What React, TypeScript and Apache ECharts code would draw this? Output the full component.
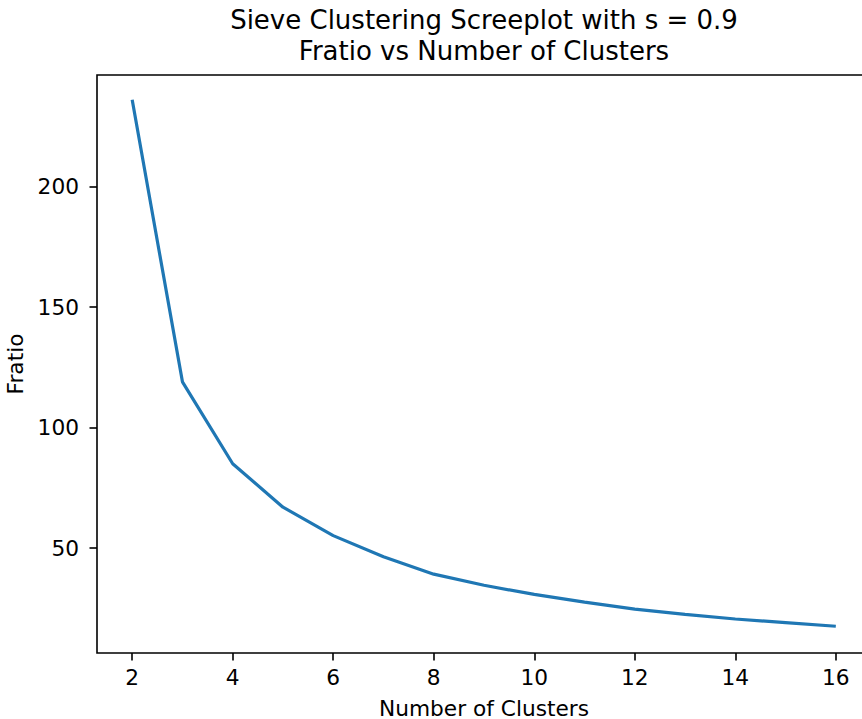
import React, { useEffect, useRef } from "react";
import * as echarts from "echarts";

const clusters = [2, 3, 4, 5, 6, 7, 8, 9, 10, 11, 12, 13, 14, 15, 16];
const fratio = [236, 119, 85, 67, 55.2, 46.4, 39.2, 34.6, 30.8, 27.6, 24.7, 22.5, 20.6, 19.1, 17.6];
const xTicks = [2, 4, 6, 8, 10, 12, 14, 16];
const yTicks = [50, 100, 150, 200];
const titleLines = ["Sieve Clustering Screeplot with s = 0.9", "Fratio vs Number of Clusters"];

const FONT = "DejaVu Sans";

export default function App() {
  const ref = useRef<HTMLDivElement>(null);
  useEffect(() => {
    if (!ref.current) return;
    const chart = echarts.init(ref.current, null, { renderer: "svg" });
    chart.setOption({
      animation: false,
      backgroundColor: "#ffffff",
      title: {
        text: titleLines.join("\n"),
        left: 484,
        top: 4,
        padding: 0,
        textAlign: "center",
        textStyle: {
          fontFamily: FONT,
          fontSize: 26,
          fontWeight: "normal",
          color: "#000",
          lineHeight: 31,
        },
      },
      grid: {
        left: 97,
        top: 75,
        right: -9,
        bottom: 66,
        containLabel: false,
        outerBoundsMode: "none",
        show: true,
        borderColor: "#000",
        borderWidth: 1.6,
        backgroundColor: "transparent",
      },
      xAxis: {
        type: "value",
        min: 1.3,
        max: 16.7,
        name: "Number of Clusters",
        nameLocation: "middle",
        nameGap: 44,
        nameTextStyle: { fontFamily: FONT, fontSize: 21.7, color: "#000" },
        axisLine: { show: false },
        splitLine: { show: false },
        axisTick: {
          show: true,
          length: 7.5,
          inside: false,
          customValues: xTicks,
          lineStyle: { color: "#000", width: 1.6 },
        },
        axisLabel: {
          customValues: xTicks,
          margin: 13,
          fontFamily: FONT,
          fontSize: 21.7,
          color: "#000",
        },
      },
      yAxis: {
        type: "value",
        min: 6.5,
        max: 246.3,
        name: "Fratio",
        nameLocation: "middle",
        nameGap: 66,
        nameTextStyle: { fontFamily: FONT, fontSize: 21.7, color: "#000" },
        axisLine: { show: false },
        splitLine: { show: false },
        axisTick: {
          show: true,
          length: 7.5,
          inside: false,
          customValues: yTicks,
          lineStyle: { color: "#000", width: 1.6 },
        },
        axisLabel: {
          customValues: yTicks,
          margin: 18,
          fontFamily: FONT,
          fontSize: 21.7,
          color: "#000",
        },
      },
      series: [
        {
          type: "line",
          data: clusters.map((c, i) => [c, fratio[i]]),
          showSymbol: false,
          symbol: "none",
          lineStyle: { color: "#1f77b4", width: 3.2 },
          itemStyle: { color: "#1f77b4" },
        },
      ],
    });
    return () => chart.dispose();
  }, []);
  return (
    <div
      ref={ref}
      style={{ position: "absolute", left: 0, top: 0, width: 862, height: 719, overflow: "hidden" }}
    />
  );
}
